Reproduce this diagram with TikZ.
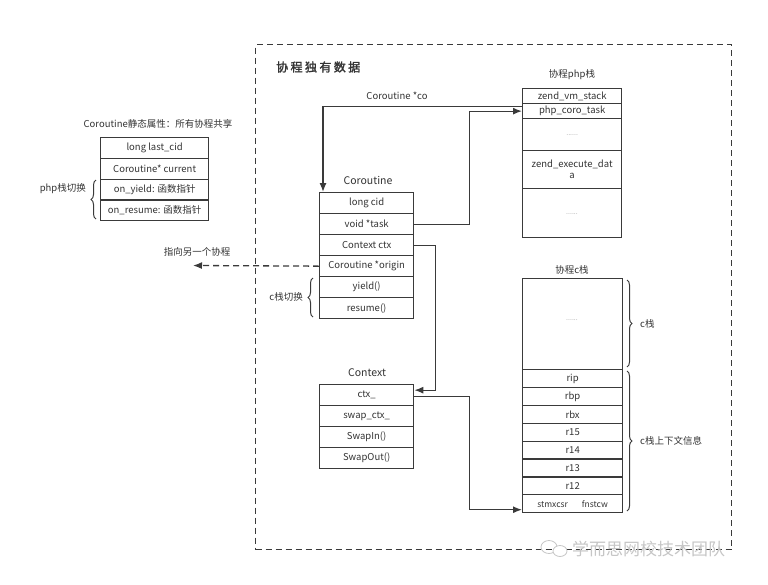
\documentclass[tikz,border=0pt]{standalone}
\usepackage{fontspec}
\setmainfont{Noto Sans CJK SC}
\newfontfamily\titlefont[FakeBold=2,LetterSpace=20]{Noto Sans CJK SC}
\usetikzlibrary{arrows.meta,decorations.pathreplacing}
\definecolor{linec}{HTML}{3A3A3A}
\definecolor{textc}{HTML}{333333}
\begin{document}
\begin{tikzpicture}[x=1pt,y=-1pt,
  cell/.style={draw=linec, line width=1.3pt, anchor=north west, inner sep=0pt,
    font=\fontsize{9.5}{11}\selectfont, text=textc},
  lbl/.style={font=\fontsize{9.5}{11}\selectfont, text=textc, inner sep=0pt},
  hdr/.style={font=\fontsize{10.5}{12}\selectfont, text=textc, inner sep=0pt},
  dots/.style={font=\fontsize{7}{8}\selectfont, text=gray!80},
  conn/.style={draw=linec, line width=1.3pt, -{Latex[length=9pt,width=7pt]}},
  brc/.style={draw=linec, line width=1pt, decorate, decoration={brace, amplitude=5pt}},
]
\useasboundingbox (0,0) rectangle (768,584);

% region
\node[draw=linec, line width=1.3pt, dash pattern=on 6pt off 4pt, anchor=north west,
      minimum width=476pt, minimum height=505pt, inner sep=0pt] (region) at (255,44) {};
\node[anchor=west, inner sep=0pt, font=\titlefont\fontsize{12}{13}\selectfont, text=textc] (title) at (276,67) {协程独有数据};

% static attributes
\node[lbl] (statlbl) at (158,124) {Coroutine静态属性：所有协程共享};
\node[cell, minimum width=108pt, minimum height=20.75pt] (lastcid) at (100,137) {long last\_cid};
\node[cell, minimum width=108pt, minimum height=20.75pt] (current) at (100,157.75) {Coroutine* current};
\node[cell, minimum width=108pt, minimum height=20.75pt] (onyield) at (100,178.5) {on\_yield: 函数指针};
\node[cell, minimum width=108pt, minimum height=20.75pt] (onresume) at (100,199.25) {on\_resume: 函数指针};
\draw[brc] (96,219) -- (96,180);
\node[lbl, anchor=east] (phpsw) at (86,189) {php栈切换};

% Coroutine
\node[hdr] (corolbl) at (368,180) {Coroutine};
\node[cell, minimum width=94pt, minimum height=21pt] (cid) at (319,192) {long cid};
\node[cell, minimum width=94pt, minimum height=21pt] (task) at (319,213) {void *task};
\node[cell, minimum width=94pt, minimum height=21pt] (ctx) at (319,234) {Context ctx};
\node[cell, minimum width=94pt, minimum height=21pt] (origin) at (319,255) {Coroutine *origin};
\node[cell, minimum width=94pt, minimum height=21pt] (yield) at (319,276) {yield()};
\node[cell, minimum width=94pt, minimum height=21pt] (resume) at (319,297) {resume()};
\draw[brc] (313,317) -- (313,278);
\node[lbl, anchor=east] (csw) at (303,297) {c栈切换};

% Context
\node[hdr] (ctxlbl) at (367,373) {Context};
\node[cell, minimum width=94pt, minimum height=21pt] (ctxu) at (319,384) {ctx\_};
\node[cell, minimum width=94pt, minimum height=21pt] (swapctx) at (319,405) {swap\_ctx\_};
\node[cell, minimum width=94pt, minimum height=21pt] (swapin) at (319,426) {SwapIn()};
\node[cell, minimum width=94pt, minimum height=21pt] (swapout) at (319,447) {SwapOut()};

% php stack
\node[lbl] (phplbl) at (572,75) {协程php栈};
\node[cell, minimum width=99pt, minimum height=15pt] (vmstack) at (522,88) {zend\_vm\_stack};
\node[cell, minimum width=99pt, minimum height=15pt] (phpcoro) at (522,103) {php\_coro\_task};
\node[cell, minimum width=99pt, minimum height=32pt] (phpdots1) at (522,118) {};
\node[dots] (pd1) at (phpdots1.center) {......};
\node[cell, minimum width=99pt, minimum height=38pt, align=center] (execdata) at (522,150) {zend\_execute\_dat\\a};
\node[cell, minimum width=99pt, minimum height=49pt] (phpdots2) at (522,188) {};
\node[dots] (pd2) at (572,214) {......};

% c stack
\node[lbl] (clbl) at (572,270) {协程c栈};
\node[cell, minimum width=100pt, minimum height=91pt] (cbody) at (522,278) {};
\node[dots] (cd) at (572,320) {......};
\node[cell, minimum width=100pt, minimum height=17.875pt] (rip) at (522,369) {rip};
\node[cell, minimum width=100pt, minimum height=17.875pt] (rbp) at (522,386.875) {rbp};
\node[cell, minimum width=100pt, minimum height=17.875pt] (rbx) at (522,404.75) {rbx};
\node[cell, minimum width=100pt, minimum height=17.875pt] (r15) at (522,422.625) {r15};
\node[cell, minimum width=100pt, minimum height=17.875pt] (r14) at (522,440.5) {r14};
\node[cell, minimum width=100pt, minimum height=17.875pt] (r13) at (522,458.375) {r13};
\node[cell, minimum width=100pt, minimum height=17.875pt] (r12) at (522,476.25) {r12};
\node[cell, minimum width=100pt, minimum height=17.875pt, font=\fontsize{8.5}{10}\selectfont] (stmx) at (522,494.125) {stmxcsr\hspace{14pt}fnstcw};
\draw[brc] (627,280) -- (627,367);
\node[lbl, anchor=west] (cstk) at (640,324) {c栈};
\draw[brc] (627,371) -- (627,511);
\node[lbl, anchor=west] (cctx) at (640,441) {c栈上下文信息};

% connectors
\node[lbl] (colbl) at (397,96) {Coroutine *co};
\draw[conn] ([yshift=4.5pt]phpcoro.west) -| ([xshift=4pt]cid.north west);
\draw[conn] (task.east) -- ++(55,0) |- (phpcoro.west);
\draw[conn] (ctx.east) -- ++(21,0) |- ([yshift=5pt]ctxu.east);
\draw[conn] ([yshift=-1.5pt]ctxu.east) -- ++(55,0) |- ([yshift=-6pt]stmx.west);
\coordinate (other) at (193,265.5);
\draw[conn, dash pattern=on 6pt off 4pt] (origin.west) -- (other);
\node[lbl] (otherlbl) at (197,252) {指向另一个协程};

% watermark
\draw[gray!45, line width=0.8pt] (549,547) ellipse (8pt and 6.5pt);
\draw[gray!45, line width=0.8pt, fill=white] (560,551) ellipse (7pt and 5.5pt);
\node[font=\fontsize{17}{19}\selectfont, text=gray!45, anchor=west, inner sep=0pt] (wm) at (572,549) {学而思网校技术团队};
\end{tikzpicture}
\end{document}
